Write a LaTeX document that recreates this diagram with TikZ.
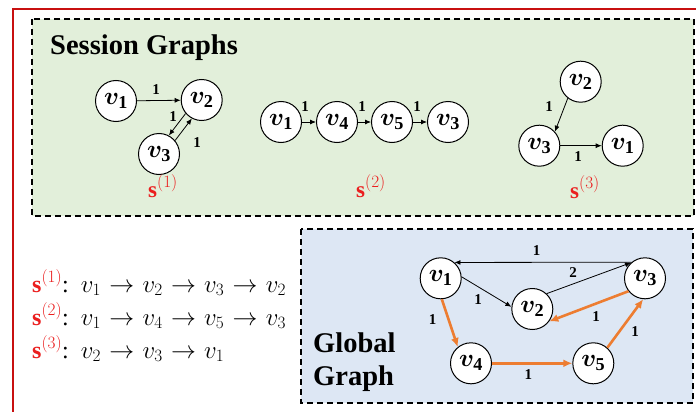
\documentclass[tikz,border=0pt]{standalone}
\usepackage{bm}
\usepackage{fontspec}
\setmainfont{Liberation Serif}
\usetikzlibrary{arrows.meta}
\definecolor{gfill}{RGB}{226,239,218}
\definecolor{bfill}{RGB}{221,231,244}
\definecolor{org}{RGB}{237,125,49}
\definecolor{framered}{RGB}{200,16,16}
\definecolor{sred}{RGB}{235,30,30}
\newcommand\nodev[1]{$\bm{v}_{\mathbf{#1}}$}
\newcommand\sess[1]{{\color{sred}$\mathbf{s}^{(#1)}$}}
\newcommand\ar{\mkern1mu\to\mkern1mu}
\begin{document}
\begin{tikzpicture}[x=1pt,y=-1pt,
  vn/.style={circle,draw,line width=1pt,fill=white,minimum size=41pt,inner sep=0pt,font=\fontsize{26}{26}\selectfont},
  ed/.style={-{Latex[length=6pt,width=5pt]},line width=0.8pt},
  oe/.style={-{Latex[length=9pt,width=8pt]},line width=2.6pt,draw=org},
  lab/.style={font=\fontsize{15}{15}\selectfont\bfseries,inner sep=0pt},
  ttl/.style={font=\fontsize{28.5}{33}\selectfont\bfseries,inner sep=0pt,anchor=base west},
  seq/.style={font=\fontsize{24}{24}\selectfont,inner sep=0pt,anchor=base west},
  slab/.style={font=\fontsize{23}{23}\selectfont,inner sep=0pt,anchor=base west},
  dbox/.style={draw,dash pattern=on 6pt off 4pt,line width=1.3pt}
]
\useasboundingbox (0,0) rectangle (696,412);
\fill[white] (0,0) rectangle (696,412);
% red frame
\draw[framered,line width=2pt] (13,412) -- (13,9.5) -- (696,9.5);
% boxes
\draw[dbox,fill=gfill] (32,19) rectangle (694,216);
\draw[dbox,fill=bfill] (301,229) rectangle (693,403);
% titles
\node[ttl] (tsg) at (50,55) {Session Graphs};
\node[ttl] (tgl) at (313,352) {Global};
\node[ttl] (tgr) at (313,385) {Graph};
% session graph 1
\node[vn] (a1) at (116,101) {\nodev1};
\node[vn] (a2) at (201.7,100) {\nodev2};
\node[vn] (a3) at (159,154) {\nodev3};
\draw[ed] (a1) -- (a2);
\draw[ed] (a2.220.7) -- (a3.62.7);
\draw[ed] (a3.40.7) -- (a2.242.7);
\node[lab] (la12) at (156,90) {1};
\node[lab] (la23) at (173,117) {1};
\node[lab] (la32) at (197,143) {1};
\node[slab] (s1) at (148,197) {\sess1};
% session graph 2
\node[vn] (b1) at (281,122) {\nodev1};
\node[vn] (b4) at (337,122) {\nodev4};
\node[vn] (b5) at (392,122) {\nodev5};
\node[vn] (b3) at (448,122) {\nodev3};
\draw[ed] (b1) -- (b4);
\draw[ed] (b4) -- (b5);
\draw[ed] (b5) -- (b3);
\node[lab] (lb14) at (305,107) {1};
\node[lab] (lb45) at (362,107) {1};
\node[lab] (lb53) at (417,107) {1};
\node[slab] (s2) at (356,197) {\sess2};
% session graph 3
\node[vn] (c2) at (580.7,81.7) {\nodev2};
\node[vn] (c3) at (539.3,145.7) {\nodev3};
\node[vn] (c1) at (622.7,145.7) {\nodev1};
\draw[ed] (c2.232) -- (c3.42);
\draw[ed] (c3) -- (c1);
\node[lab] (lc23) at (549,107) {1};
\node[lab] (lc31) at (578,157) {1};
\node[slab] (s3) at (570,198) {\sess3};
% sequences
\node[seq] (q1) at (32,292) {\sess1:\ \ $v_1\ar v_2\ar v_3\ar v_2$};
\node[seq] (q2) at (32,325) {\sess2:\ \ $v_1\ar v_4\ar v_5\ar v_3$};
\node[seq] (q3) at (32,358) {\sess3:\ \ $v_2\ar v_3\ar v_1$};
% global graph
\node[vn] (g1) at (440.7,278.3) {\nodev1};
\node[vn] (g2) at (532.3,309) {\nodev2};
\node[vn] (g3) at (645,278.3) {\nodev3};
\node[vn] (g4) at (471,363.3) {\nodev4};
\node[vn] (g5) at (593.3,363.3) {\nodev5};
\draw[ed] (g3.130) -- (g1.49);
\draw[ed] (g2.47) -- (g3.132);
\draw[ed] (g1.4) -- (g2.174);
\draw[oe] (g3.218) -- (g2.324);
\draw[oe] (g1.273) -- (g4.129);
\draw[oe] (g4) -- (g5);
\draw[oe] (g5.48) -- (g3.265);
\node[lab] (lg31) at (536.7,250.7) {1};
\node[lab] (lg23) at (573,273) {2};
\node[lab] (lg12) at (478,300) {1};
\node[lab] (lg32) at (596,317) {1};
\node[lab] (lg14) at (432.7,320) {1};
\node[lab] (lg45) at (528.3,375) {1};
\node[lab] (lg53) at (635,331.7) {1};
\end{tikzpicture}
\end{document}
